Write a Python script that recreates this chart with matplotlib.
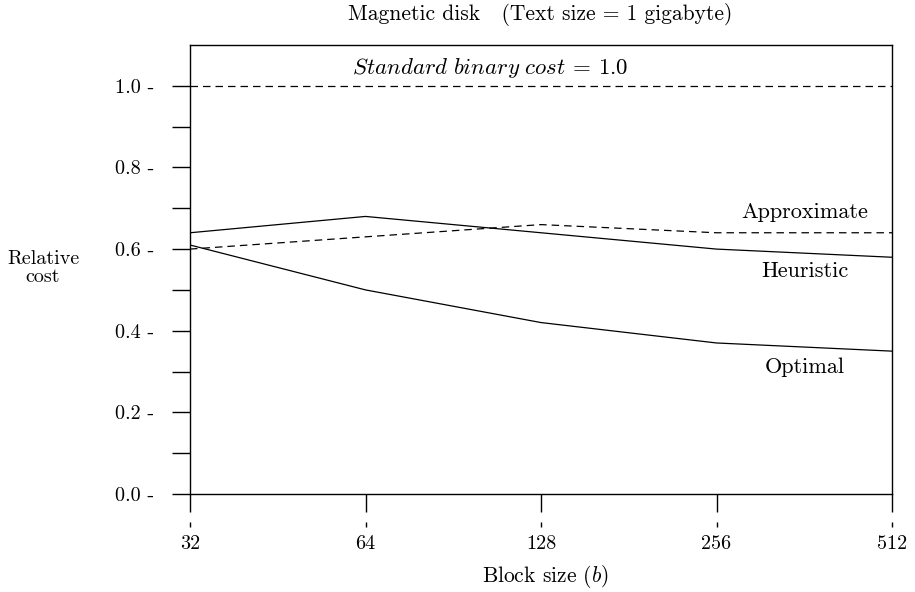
import matplotlib
matplotlib.use("Agg")
import matplotlib.pyplot as plt
from matplotlib.ticker import FixedLocator, FixedFormatter, NullFormatter, NullLocator

plt.rcParams['font.family'] = 'serif'
plt.rcParams['font.serif'] = ['cmr10', 'DejaVu Serif']
plt.rcParams['mathtext.fontset'] = 'cm'
plt.rcParams['axes.unicode_minus'] = False

block_sizes = [32, 64, 128, 256, 512]
optimal = [0.61, 0.50, 0.42, 0.37, 0.35]
heuristic = [0.64, 0.68, 0.64, 0.60, 0.58]
approximate = [0.60, 0.63, 0.66, 0.64, 0.64]
standard = [1.0, 1.0, 1.0, 1.0, 1.0]
y_major = [0.0, 0.2, 0.4, 0.6, 0.8, 1.0]
y_minor = [0.1, 0.3, 0.5, 0.7, 0.9]
x_labels = ['32', '64', '128', '256', '512']

fig = plt.figure(figsize=(9.15, 5.92), dpi=100)
ax_h = (494 - 45) / 592
ax = fig.add_axes([190/915, 1-494/592, (892-190)/915, ax_h])

ax.set_xscale('log', base=2)
ax.set_xlim(32, 512)
ax.set_ylim(0, 1.10)

dash = (0, (6, 4))
ax.plot(block_sizes, standard, color='black', lw=0.9, ls=dash)
ax.plot(block_sizes, approximate, color='black', lw=0.9, ls=dash)
ax.plot(block_sizes, heuristic, color='black', lw=0.9)
ax.plot(block_sizes, optimal, color='black', lw=0.9)

ax.xaxis.set_major_locator(FixedLocator(block_sizes))
ax.xaxis.set_major_formatter(NullFormatter())
ax.xaxis.set_minor_locator(NullLocator())
ax.yaxis.set_major_locator(FixedLocator(y_major))
ax.yaxis.set_major_formatter(FixedFormatter([f"{v:.1f} -" for v in y_major]))
ax.yaxis.set_minor_locator(FixedLocator(y_minor))

ax.tick_params(axis='both', which='both', direction='out', length=13, width=1.0,
               color='black')
ax.tick_params(axis='y', labelsize=14.5, pad=13)
for s in ax.spines.values():
    s.set_linewidth(1.0)

# secondary small tick marks above x labels
sec = ax.secondary_xaxis(-(522 - 494) / 592 / ax_h)
sec.xaxis.set_major_locator(FixedLocator(block_sizes))
sec.xaxis.set_major_formatter(FixedFormatter(x_labels))
sec.xaxis.set_minor_locator(NullLocator())
sec.tick_params(axis='x', which='both', direction='out', length=3.5, width=1.0,
                labelsize=14.5, pad=6)
sec.spines['bottom'].set_visible(False)

fig.text(490/915, 1-68/592, r'$\mathit{Standard\ binary\ cost}$ = 1.0',
         fontsize=16.5, ha='center', va='center')
fig.text(805/915, 1-212/592, 'Approximate', fontsize=16, ha='center', va='center')
fig.text(805/915, 1-271/592, 'Heuristic', fontsize=16, ha='center', va='center')
fig.text(805/915, 1-367/592, 'Optimal', fontsize=16, ha='center', va='center')

fig.text(540/915, 1-14/592, 'Magnetic disk   (Text size = 1 gigabyte)', fontsize=15.5,
         ha='center', va='center')
fig.text(545/915, 1-577/592, r'Block size ($b$)', fontsize=15.5, ha='center', va='center')
fig.text(43/915, 1-268/592, 'Relative\ncost', fontsize=14.5, ha='center', va='center',
         linespacing=1.0)

fig.savefig('out.png', dpi=100)
